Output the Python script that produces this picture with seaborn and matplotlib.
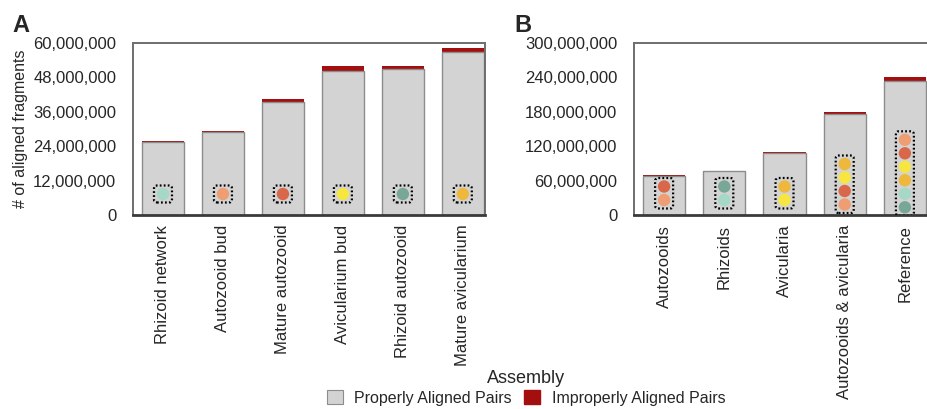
import matplotlib
matplotlib.use("Agg")
import matplotlib.pyplot as plt
from matplotlib.patches import Circle, FancyBboxPatch, Patch
from matplotlib.transforms import ScaledTranslation
import seaborn as sns
import pandas as pd

# ---- data -------------------------------------------------------------
tissues = ["Rhizoid network", "Autozooid bud", "Mature autozooid",
           "Avicularium bud", "Rhizoid autozooid", "Mature avicularium"]
tissue_proper = [25.3e6, 28.8e6, 39.5e6, 50.4e6, 51.0e6, 56.9e6]
tissue_improper = [0.5e6, 0.4e6, 1.0e6, 1.5e6, 1.0e6, 1.3e6]

pooled = ["Autozooids", "Rhizoids", "Avicularia",
          "Autozooids & avicularia", "Reference"]
pooled_proper = [68.0e6, 76.0e6, 108.0e6, 176.0e6, 234.0e6]
pooled_improper = [1.2e6, 1.2e6, 2.5e6, 4.0e6, 6.0e6]

# colour code of each tissue library
tissue_colors = {
    "Rhizoid network": "#a6d8c6",
    "Autozooid bud": "#ef9e74",
    "Mature autozooid": "#d9674a",
    "Avicularium bud": "#f6e63f",
    "Rhizoid autozooid": "#79a796",
    "Mature avicularium": "#edb83c",
}
# libraries combined in each pooled assembly (listed bottom to top)
pooled_members = [
    ["Autozooid bud", "Mature autozooid"],
    ["Rhizoid network", "Rhizoid autozooid"],
    ["Avicularium bud", "Mature avicularium"],
    ["Autozooid bud", "Mature autozooid", "Avicularium bud", "Mature avicularium"],
    ["Rhizoid autozooid", "Rhizoid network", "Mature avicularium",
     "Avicularium bud", "Mature autozooid", "Autozooid bud"],
]

# ---- style ------------------------------------------------------------
sns.set_style("white")
plt.rcParams["font.family"] = ["Liberation Sans", "DejaVu Sans"]

GREY = "#d3d3d3"
GREY_EDGE = "#8c8c8c"
RED = "#a30f0f"
DPI = 100

fig = plt.figure(figsize=(927 / DPI, 409 / DPI), dpi=DPI)
ax_a = fig.add_axes([133 / 927, 194 / 409, 352 / 927, 172 / 409])
ax_b = fig.add_axes([634 / 927, 194 / 409, 301 / 927, 172 / 409])


def draw_bars(ax, names, proper, improper, ymax, step):
    df = pd.DataFrame({"assembly": names,
                       "proper": proper,
                       "total": [p + q for p, q in zip(proper, improper)]})
    sns.barplot(data=df, x="assembly", y="total", order=names, color=RED,
                saturation=1, width=0.7, edgecolor="none", linewidth=0, ax=ax)
    sns.barplot(data=df, x="assembly", y="proper", order=names, color=GREY,
                saturation=1, width=0.7, edgecolor=GREY_EDGE, linewidth=1.0,
                ax=ax)
    ax.set_ylim(0, ymax)
    ax.set_yticks(range(0, int(ymax) + 1, int(step)))
    ax.set_yticklabels([f"{int(v):,}" for v in ax.get_yticks()], fontsize=12)
    ax.set_xlabel("")
    ax.set_ylabel("")
    ax.tick_params(axis="x", length=0, pad=7, labelsize=12, labelrotation=90)
    ax.tick_params(axis="y", length=0, pad=12)
    for lab in ax.get_xticklabels():
        lab.set_va("top")
        lab.set_ha("center")
    for side in ("top", "left", "right"):
        ax.spines[side].set_color("#6e6e6e")
        ax.spines[side].set_linewidth(1.4)
    ax.spines["bottom"].set_color("#3a3a3a")
    ax.spines["bottom"].set_linewidth(2.0)


def draw_swatches(ax, x, members, base_px):
    """Stack of library colour dots inside a dotted rounded box."""
    tr = fig.dpi_scale_trans + ScaledTranslation(x, 0, ax.transData)
    gap = 13.5
    r = 6.2
    n = len(members)
    ys = [(base_px + i * gap) / DPI for i in range(n)]
    pad_y = 8.5 / DPI
    half_w = 9 / DPI
    box = FancyBboxPatch((-half_w, ys[0] - pad_y), 2 * half_w,
                         ys[-1] - ys[0] + 2 * pad_y,
                         boxstyle=f"round,pad=0,rounding_size={3 / DPI}",
                         transform=tr, facecolor="none", edgecolor="black",
                         linewidth=1.6, linestyle=(0, (0.8, 1.0)), zorder=5)
    ax.add_patch(box)
    for name, y in zip(members, ys):
        ax.add_patch(Circle((0, y), r / DPI, transform=tr,
                            facecolor=tissue_colors[name], edgecolor="none",
                            zorder=6))


draw_bars(ax_a, tissues, tissue_proper, tissue_improper, 60e6, 12e6)
draw_bars(ax_b, pooled, pooled_proper, pooled_improper, 300e6, 60e6)
ax_a.set_xlim(-0.5, 5.37)
ax_b.set_xlim(-0.5, 4.5)

for i, name in enumerate(tissues):
    draw_swatches(ax_a, i, [name], 21)

base_by_size = {2: 15, 4: 10.5, 6: 7.7}
for i, members in enumerate(pooled_members):
    draw_swatches(ax_b, i, members, base_by_size[len(members)])

ax_a.set_ylabel("# of aligned fragments", fontsize=11.5)
ax_a.yaxis.set_label_coords(-0.298, 0.5)

fig.text(12 / 927, 1 - 14 / 409, "A", fontsize=17, fontweight="bold",
         ha="left", va="top")
fig.text(514 / 927, 1 - 14 / 409, "B", fontsize=17, fontweight="bold",
         ha="left", va="top")

handles = [Patch(facecolor=GREY, edgecolor=GREY_EDGE, linewidth=0.8),
           Patch(facecolor=RED, edgecolor=RED)]
leg = fig.legend(handles, ["Properly Aligned Pairs", "Improperly Aligned Pairs"],
                 title="Assembly", loc="upper center",
                 bbox_to_anchor=(526 / 927, 1 - 362 / 409), ncol=2,
                 frameon=False, fontsize=11.5, title_fontsize=13,
                 handlelength=1.0, handleheight=1.0, handletextpad=0.7,
                 columnspacing=0.8, borderpad=0, labelspacing=0.2)

fig.savefig("out.png", dpi=DPI)
